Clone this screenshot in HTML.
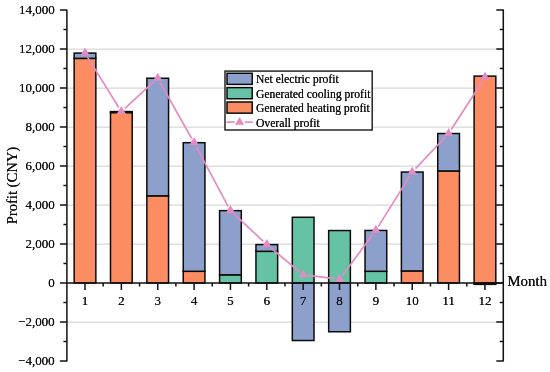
<!DOCTYPE html>
<html><head><meta charset="utf-8"><title>Profit chart</title>
<style>html,body{margin:0;padding:0;background:#fff;}body{width:550px;height:372px;overflow:hidden;position:relative;font-family:"Liberation Serif",serif;}</style>
</head><body>
<svg width="550" height="372" viewBox="0 0 550 372" style="position:absolute;left:0;top:0;will-change:transform">
<g opacity="0.999">
<line x1="66.9" x2="503.3" y1="49.15" y2="49.15" stroke="#c8c8c8" stroke-width="0.9"/>
<line x1="66.9" x2="503.3" y1="88.15" y2="88.15" stroke="#c8c8c8" stroke-width="0.9"/>
<line x1="66.9" x2="503.3" y1="127.15" y2="127.15" stroke="#c8c8c8" stroke-width="0.9"/>
<line x1="66.9" x2="503.3" y1="166.15" y2="166.15" stroke="#c8c8c8" stroke-width="0.9"/>
<line x1="66.9" x2="503.3" y1="205.15" y2="205.15" stroke="#c8c8c8" stroke-width="0.9"/>
<line x1="66.9" x2="503.3" y1="244.15" y2="244.15" stroke="#c8c8c8" stroke-width="0.9"/>
<line x1="66.9" x2="503.3" y1="322.15" y2="322.15" stroke="#c8c8c8" stroke-width="0.9"/>
<rect x="74.15" y="58.36" width="21.7" height="224.64" fill="#FC8D62" stroke="#0a0a0a" stroke-width="1.5"/>
<rect x="74.15" y="53.09" width="21.7" height="5.27" fill="#8DA0CB" stroke="#0a0a0a" stroke-width="1.5"/>
<rect x="110.51" y="112.57" width="21.7" height="170.43" fill="#FC8D62" stroke="#0a0a0a" stroke-width="1.5"/>
<rect x="110.51" y="111.59" width="21.7" height="0.97" fill="#8DA0CB" stroke="#0a0a0a" stroke-width="1.5"/>
<rect x="146.87" y="195.83" width="21.7" height="87.17" fill="#FC8D62" stroke="#0a0a0a" stroke-width="1.5"/>
<rect x="146.87" y="78.25" width="21.7" height="117.58" fill="#8DA0CB" stroke="#0a0a0a" stroke-width="1.5"/>
<rect x="183.23" y="271.30" width="21.7" height="11.70" fill="#FC8D62" stroke="#0a0a0a" stroke-width="1.5"/>
<rect x="183.23" y="142.70" width="21.7" height="128.60" fill="#8DA0CB" stroke="#0a0a0a" stroke-width="1.5"/>
<rect x="219.59" y="274.81" width="21.7" height="8.19" fill="#66C2A5" stroke="#0a0a0a" stroke-width="1.5"/>
<rect x="219.59" y="210.66" width="21.7" height="64.16" fill="#8DA0CB" stroke="#0a0a0a" stroke-width="1.5"/>
<rect x="255.95" y="251.31" width="21.7" height="31.69" fill="#66C2A5" stroke="#0a0a0a" stroke-width="1.5"/>
<rect x="255.95" y="244.59" width="21.7" height="6.73" fill="#8DA0CB" stroke="#0a0a0a" stroke-width="1.5"/>
<rect x="292.31" y="217.28" width="21.7" height="65.72" fill="#66C2A5" stroke="#0a0a0a" stroke-width="1.5"/>
<rect x="292.31" y="283.00" width="21.7" height="57.52" fill="#8DA0CB" stroke="#0a0a0a" stroke-width="1.5"/>
<rect x="328.67" y="230.55" width="21.7" height="52.45" fill="#66C2A5" stroke="#0a0a0a" stroke-width="1.5"/>
<rect x="328.67" y="283.00" width="21.7" height="48.75" fill="#8DA0CB" stroke="#0a0a0a" stroke-width="1.5"/>
<rect x="365.03" y="271.30" width="21.7" height="11.70" fill="#66C2A5" stroke="#0a0a0a" stroke-width="1.5"/>
<rect x="365.03" y="230.45" width="21.7" height="40.85" fill="#8DA0CB" stroke="#0a0a0a" stroke-width="1.5"/>
<rect x="401.39" y="270.91" width="21.7" height="12.09" fill="#FC8D62" stroke="#0a0a0a" stroke-width="1.5"/>
<rect x="401.39" y="172.05" width="21.7" height="98.87" fill="#8DA0CB" stroke="#0a0a0a" stroke-width="1.5"/>
<rect x="437.75" y="170.97" width="21.7" height="112.03" fill="#FC8D62" stroke="#0a0a0a" stroke-width="1.5"/>
<rect x="437.75" y="133.53" width="21.7" height="37.44" fill="#8DA0CB" stroke="#0a0a0a" stroke-width="1.5"/>
<rect x="474.11" y="76.10" width="21.7" height="206.90" fill="#FC8D62" stroke="#0a0a0a" stroke-width="1.5"/>
<rect x="474.11" y="283.00" width="21.7" height="1.37" fill="#8DA0CB" stroke="#0a0a0a" stroke-width="1.5"/>
<line x1="66.9" x2="66.9" y1="9.40" y2="361.60" stroke="#111" stroke-width="1.5"/>
<line x1="503.3" x2="503.3" y1="9.40" y2="361.60" stroke="#111" stroke-width="1.5"/>
<line x1="66.30000000000001" x2="503.90000000000003" y1="283.0" y2="283.0" stroke="#111" stroke-width="1.5"/>
<line x1="59.900000000000006" x2="66.9" y1="361.00" y2="361.00" stroke="#111" stroke-width="1.5"/>
<line x1="496.3" x2="503.3" y1="361.00" y2="361.00" stroke="#111" stroke-width="1.5"/>
<line x1="63.400000000000006" x2="66.9" y1="341.50" y2="341.50" stroke="#111" stroke-width="1.5"/>
<line x1="499.8" x2="503.3" y1="341.50" y2="341.50" stroke="#111" stroke-width="1.5"/>
<line x1="59.900000000000006" x2="66.9" y1="322.00" y2="322.00" stroke="#111" stroke-width="1.5"/>
<line x1="496.3" x2="503.3" y1="322.00" y2="322.00" stroke="#111" stroke-width="1.5"/>
<line x1="63.400000000000006" x2="66.9" y1="302.50" y2="302.50" stroke="#111" stroke-width="1.5"/>
<line x1="499.8" x2="503.3" y1="302.50" y2="302.50" stroke="#111" stroke-width="1.5"/>
<line x1="59.900000000000006" x2="66.9" y1="283.00" y2="283.00" stroke="#111" stroke-width="1.5"/>
<line x1="496.3" x2="503.3" y1="283.00" y2="283.00" stroke="#111" stroke-width="1.5"/>
<line x1="63.400000000000006" x2="66.9" y1="263.50" y2="263.50" stroke="#111" stroke-width="1.5"/>
<line x1="499.8" x2="503.3" y1="263.50" y2="263.50" stroke="#111" stroke-width="1.5"/>
<line x1="59.900000000000006" x2="66.9" y1="244.00" y2="244.00" stroke="#111" stroke-width="1.5"/>
<line x1="496.3" x2="503.3" y1="244.00" y2="244.00" stroke="#111" stroke-width="1.5"/>
<line x1="63.400000000000006" x2="66.9" y1="224.50" y2="224.50" stroke="#111" stroke-width="1.5"/>
<line x1="499.8" x2="503.3" y1="224.50" y2="224.50" stroke="#111" stroke-width="1.5"/>
<line x1="59.900000000000006" x2="66.9" y1="205.00" y2="205.00" stroke="#111" stroke-width="1.5"/>
<line x1="496.3" x2="503.3" y1="205.00" y2="205.00" stroke="#111" stroke-width="1.5"/>
<line x1="63.400000000000006" x2="66.9" y1="185.50" y2="185.50" stroke="#111" stroke-width="1.5"/>
<line x1="499.8" x2="503.3" y1="185.50" y2="185.50" stroke="#111" stroke-width="1.5"/>
<line x1="59.900000000000006" x2="66.9" y1="166.00" y2="166.00" stroke="#111" stroke-width="1.5"/>
<line x1="496.3" x2="503.3" y1="166.00" y2="166.00" stroke="#111" stroke-width="1.5"/>
<line x1="63.400000000000006" x2="66.9" y1="146.50" y2="146.50" stroke="#111" stroke-width="1.5"/>
<line x1="499.8" x2="503.3" y1="146.50" y2="146.50" stroke="#111" stroke-width="1.5"/>
<line x1="59.900000000000006" x2="66.9" y1="127.00" y2="127.00" stroke="#111" stroke-width="1.5"/>
<line x1="496.3" x2="503.3" y1="127.00" y2="127.00" stroke="#111" stroke-width="1.5"/>
<line x1="63.400000000000006" x2="66.9" y1="107.50" y2="107.50" stroke="#111" stroke-width="1.5"/>
<line x1="499.8" x2="503.3" y1="107.50" y2="107.50" stroke="#111" stroke-width="1.5"/>
<line x1="59.900000000000006" x2="66.9" y1="88.00" y2="88.00" stroke="#111" stroke-width="1.5"/>
<line x1="496.3" x2="503.3" y1="88.00" y2="88.00" stroke="#111" stroke-width="1.5"/>
<line x1="63.400000000000006" x2="66.9" y1="68.50" y2="68.50" stroke="#111" stroke-width="1.5"/>
<line x1="499.8" x2="503.3" y1="68.50" y2="68.50" stroke="#111" stroke-width="1.5"/>
<line x1="59.900000000000006" x2="66.9" y1="49.00" y2="49.00" stroke="#111" stroke-width="1.5"/>
<line x1="496.3" x2="503.3" y1="49.00" y2="49.00" stroke="#111" stroke-width="1.5"/>
<line x1="63.400000000000006" x2="66.9" y1="29.50" y2="29.50" stroke="#111" stroke-width="1.5"/>
<line x1="499.8" x2="503.3" y1="29.50" y2="29.50" stroke="#111" stroke-width="1.5"/>
<line x1="59.900000000000006" x2="66.9" y1="10.00" y2="10.00" stroke="#111" stroke-width="1.5"/>
<line x1="496.3" x2="503.3" y1="10.00" y2="10.00" stroke="#111" stroke-width="1.5"/>
<line x1="85.00" x2="85.00" y1="283.0" y2="290.0" stroke="#111" stroke-width="1.5"/>
<line x1="121.36" x2="121.36" y1="283.0" y2="290.0" stroke="#111" stroke-width="1.5"/>
<line x1="157.72" x2="157.72" y1="283.0" y2="290.0" stroke="#111" stroke-width="1.5"/>
<line x1="194.08" x2="194.08" y1="283.0" y2="290.0" stroke="#111" stroke-width="1.5"/>
<line x1="230.44" x2="230.44" y1="283.0" y2="290.0" stroke="#111" stroke-width="1.5"/>
<line x1="266.80" x2="266.80" y1="283.0" y2="290.0" stroke="#111" stroke-width="1.5"/>
<line x1="303.16" x2="303.16" y1="283.0" y2="290.0" stroke="#111" stroke-width="1.5"/>
<line x1="339.52" x2="339.52" y1="283.0" y2="290.0" stroke="#111" stroke-width="1.5"/>
<line x1="375.88" x2="375.88" y1="283.0" y2="290.0" stroke="#111" stroke-width="1.5"/>
<line x1="412.24" x2="412.24" y1="283.0" y2="290.0" stroke="#111" stroke-width="1.5"/>
<line x1="448.60" x2="448.60" y1="283.0" y2="290.0" stroke="#111" stroke-width="1.5"/>
<line x1="484.96" x2="484.96" y1="283.0" y2="290.0" stroke="#111" stroke-width="1.5"/>
<line x1="103.18" x2="103.18" y1="283.0" y2="286.5" stroke="#111" stroke-width="1.5"/>
<line x1="139.54" x2="139.54" y1="283.0" y2="286.5" stroke="#111" stroke-width="1.5"/>
<line x1="175.90" x2="175.90" y1="283.0" y2="286.5" stroke="#111" stroke-width="1.5"/>
<line x1="212.26" x2="212.26" y1="283.0" y2="286.5" stroke="#111" stroke-width="1.5"/>
<line x1="248.62" x2="248.62" y1="283.0" y2="286.5" stroke="#111" stroke-width="1.5"/>
<line x1="284.98" x2="284.98" y1="283.0" y2="286.5" stroke="#111" stroke-width="1.5"/>
<line x1="321.34" x2="321.34" y1="283.0" y2="286.5" stroke="#111" stroke-width="1.5"/>
<line x1="357.70" x2="357.70" y1="283.0" y2="286.5" stroke="#111" stroke-width="1.5"/>
<line x1="394.06" x2="394.06" y1="283.0" y2="286.5" stroke="#111" stroke-width="1.5"/>
<line x1="430.42" x2="430.42" y1="283.0" y2="286.5" stroke="#111" stroke-width="1.5"/>
<line x1="466.78" x2="466.78" y1="283.0" y2="286.5" stroke="#111" stroke-width="1.5"/>
<line x1="87.53" y1="57.17" x2="118.83" y2="107.52" stroke="#E78AC3" stroke-width="1.7"/>
<line x1="124.90" y1="108.35" x2="154.18" y2="81.49" stroke="#E78AC3" stroke-width="1.7"/>
<line x1="160.08" y1="82.43" x2="191.72" y2="138.52" stroke="#E78AC3" stroke-width="1.7"/>
<line x1="196.34" y1="146.93" x2="228.18" y2="206.42" stroke="#E78AC3" stroke-width="1.7"/>
<line x1="233.95" y1="213.93" x2="263.29" y2="241.31" stroke="#E78AC3" stroke-width="1.7"/>
<line x1="270.49" y1="247.65" x2="299.47" y2="271.74" stroke="#E78AC3" stroke-width="1.7"/>
<line x1="307.92" y1="275.40" x2="334.76" y2="278.71" stroke="#E78AC3" stroke-width="1.7"/>
<line x1="342.39" y1="275.44" x2="373.01" y2="234.30" stroke="#E78AC3" stroke-width="1.7"/>
<line x1="378.42" y1="226.37" x2="409.70" y2="176.12" stroke="#E78AC3" stroke-width="1.7"/>
<line x1="415.54" y1="168.55" x2="445.30" y2="137.02" stroke="#E78AC3" stroke-width="1.7"/>
<line x1="451.21" y1="129.51" x2="482.35" y2="81.50" stroke="#E78AC3" stroke-width="1.7"/>
<polygon points="85.00,47.49 89.60,55.49 80.40,55.49" fill="#E78AC3"/>
<polygon points="121.36,106.00 125.96,114.00 116.76,114.00" fill="#E78AC3"/>
<polygon points="157.72,72.65 162.32,80.65 153.12,80.65" fill="#E78AC3"/>
<polygon points="194.08,137.10 198.68,145.10 189.48,145.10" fill="#E78AC3"/>
<polygon points="230.44,205.06 235.04,213.06 225.84,213.06" fill="#E78AC3"/>
<polygon points="266.80,238.99 271.40,246.99 262.20,246.99" fill="#E78AC3"/>
<polygon points="303.16,269.21 307.76,277.21 298.56,277.21" fill="#E78AC3"/>
<polygon points="339.52,273.69 344.12,281.69 334.92,281.69" fill="#E78AC3"/>
<polygon points="375.88,224.85 380.48,232.85 371.28,232.85" fill="#E78AC3"/>
<polygon points="412.24,166.45 416.84,174.45 407.64,174.45" fill="#E78AC3"/>
<polygon points="448.60,127.93 453.20,135.93 444.00,135.93" fill="#E78AC3"/>
<polygon points="484.96,71.87 489.56,79.87 480.36,79.87" fill="#E78AC3"/>
<g transform="translate(54.70,365.35) scale(1,1.02)" font-family="Liberation Serif, serif" font-size="13.0" fill="#111" text-anchor="end"><text x="-0.08">−4,000</text><text x="0.08">−4,000</text></g>
<g transform="translate(54.70,326.35) scale(1,1.02)" font-family="Liberation Serif, serif" font-size="13.0" fill="#111" text-anchor="end"><text x="-0.08">−2,000</text><text x="0.08">−2,000</text></g>
<g transform="translate(54.70,287.35) scale(1,1.02)" font-family="Liberation Serif, serif" font-size="13.0" fill="#111" text-anchor="end"><text x="-0.08">0</text><text x="0.08">0</text></g>
<g transform="translate(54.70,248.35) scale(1,1.02)" font-family="Liberation Serif, serif" font-size="13.0" fill="#111" text-anchor="end"><text x="-0.08">2,000</text><text x="0.08">2,000</text></g>
<g transform="translate(54.70,209.35) scale(1,1.02)" font-family="Liberation Serif, serif" font-size="13.0" fill="#111" text-anchor="end"><text x="-0.08">4,000</text><text x="0.08">4,000</text></g>
<g transform="translate(54.70,170.35) scale(1,1.02)" font-family="Liberation Serif, serif" font-size="13.0" fill="#111" text-anchor="end"><text x="-0.08">6,000</text><text x="0.08">6,000</text></g>
<g transform="translate(54.70,131.35) scale(1,1.02)" font-family="Liberation Serif, serif" font-size="13.0" fill="#111" text-anchor="end"><text x="-0.08">8,000</text><text x="0.08">8,000</text></g>
<g transform="translate(54.70,92.35) scale(1,1.02)" font-family="Liberation Serif, serif" font-size="13.0" fill="#111" text-anchor="end"><text x="-0.08">10,000</text><text x="0.08">10,000</text></g>
<g transform="translate(54.70,53.35) scale(1,1.02)" font-family="Liberation Serif, serif" font-size="13.0" fill="#111" text-anchor="end"><text x="-0.08">12,000</text><text x="0.08">12,000</text></g>
<g transform="translate(54.70,14.35) scale(1,1.02)" font-family="Liberation Serif, serif" font-size="13.0" fill="#111" text-anchor="end"><text x="-0.08">14,000</text><text x="0.08">14,000</text></g>
<g transform="translate(85.00,304.50) scale(1,1.02)" font-family="Liberation Serif, serif" font-size="13.0" fill="#111" text-anchor="middle"><text x="-0.08">1</text><text x="0.08">1</text></g>
<g transform="translate(121.36,304.50) scale(1,1.02)" font-family="Liberation Serif, serif" font-size="13.0" fill="#111" text-anchor="middle"><text x="-0.08">2</text><text x="0.08">2</text></g>
<g transform="translate(157.72,304.50) scale(1,1.02)" font-family="Liberation Serif, serif" font-size="13.0" fill="#111" text-anchor="middle"><text x="-0.08">3</text><text x="0.08">3</text></g>
<g transform="translate(194.08,304.50) scale(1,1.02)" font-family="Liberation Serif, serif" font-size="13.0" fill="#111" text-anchor="middle"><text x="-0.08">4</text><text x="0.08">4</text></g>
<g transform="translate(230.44,304.50) scale(1,1.02)" font-family="Liberation Serif, serif" font-size="13.0" fill="#111" text-anchor="middle"><text x="-0.08">5</text><text x="0.08">5</text></g>
<g transform="translate(266.80,304.50) scale(1,1.02)" font-family="Liberation Serif, serif" font-size="13.0" fill="#111" text-anchor="middle"><text x="-0.08">6</text><text x="0.08">6</text></g>
<g transform="translate(303.16,304.50) scale(1,1.02)" font-family="Liberation Serif, serif" font-size="13.0" fill="#111" text-anchor="middle"><text x="-0.08">7</text><text x="0.08">7</text></g>
<g transform="translate(339.52,304.50) scale(1,1.02)" font-family="Liberation Serif, serif" font-size="13.0" fill="#111" text-anchor="middle"><text x="-0.08">8</text><text x="0.08">8</text></g>
<g transform="translate(375.88,304.50) scale(1,1.02)" font-family="Liberation Serif, serif" font-size="13.0" fill="#111" text-anchor="middle"><text x="-0.08">9</text><text x="0.08">9</text></g>
<g transform="translate(412.24,304.50) scale(1,1.02)" font-family="Liberation Serif, serif" font-size="13.0" fill="#111" text-anchor="middle"><text x="-0.08">10</text><text x="0.08">10</text></g>
<g transform="translate(448.60,304.50) scale(1,1.02)" font-family="Liberation Serif, serif" font-size="13.0" fill="#111" text-anchor="middle"><text x="-0.08">11</text><text x="0.08">11</text></g>
<g transform="translate(484.96,304.50) scale(1,1.02)" font-family="Liberation Serif, serif" font-size="13.0" fill="#111" text-anchor="middle"><text x="-0.08">12</text><text x="0.08">12</text></g>
<g transform="translate(507.30,286.40) scale(1,1.04)" font-family="Liberation Serif, serif" font-size="14.9" fill="#111"><text x="-0.08">Month</text><text x="0.08">Month</text></g>
<g transform="translate(16.60,185.50) rotate(-90)" font-family="Liberation Serif, serif" font-size="14.6" fill="#111" text-anchor="middle"><text x="-0.08">Profit (CNY)</text><text x="0.08">Profit (CNY)</text></g>
<rect x="225.0" y="71.1" width="147.2" height="58.9" fill="#fff" stroke="#262626" stroke-width="1.5"/>
<rect x="227.0" y="73.25" width="25.2" height="11.15" fill="#8DA0CB" stroke="#0a0a0a" stroke-width="1.5"/>
<rect x="227.0" y="87.6" width="25.2" height="11.15" fill="#66C2A5" stroke="#0a0a0a" stroke-width="1.5"/>
<rect x="227.0" y="102.0" width="25.2" height="11.15" fill="#FC8D62" stroke="#0a0a0a" stroke-width="1.5"/>
<line x1="226.5" x2="234.5" y1="122.1" y2="122.1" stroke="#E78AC3" stroke-width="1.7"/>
<line x1="244.7" x2="252.9" y1="122.1" y2="122.1" stroke="#E78AC3" stroke-width="1.7"/>
<polygon points="239.60,117.04 244.20,124.84 235.00,124.84" fill="#E78AC3"/>
<g transform="translate(256.00,83.20)" font-family="Liberation Serif, serif" font-size="11.65" fill="#111"><text x="-0.06">Net electric profit</text><text x="0.06">Net electric profit</text></g>
<g transform="translate(256.00,97.70)" font-family="Liberation Serif, serif" font-size="11.65" fill="#111"><text x="-0.06">Generated cooling profit</text><text x="0.06">Generated cooling profit</text></g>
<g transform="translate(256.00,112.20)" font-family="Liberation Serif, serif" font-size="11.65" fill="#111"><text x="-0.06">Generated heating profit</text><text x="0.06">Generated heating profit</text></g>
<g transform="translate(256.00,126.60)" font-family="Liberation Serif, serif" font-size="11.65" fill="#111"><text x="-0.06">Overall profit</text><text x="0.06">Overall profit</text></g>
</g></svg>
</body></html>
